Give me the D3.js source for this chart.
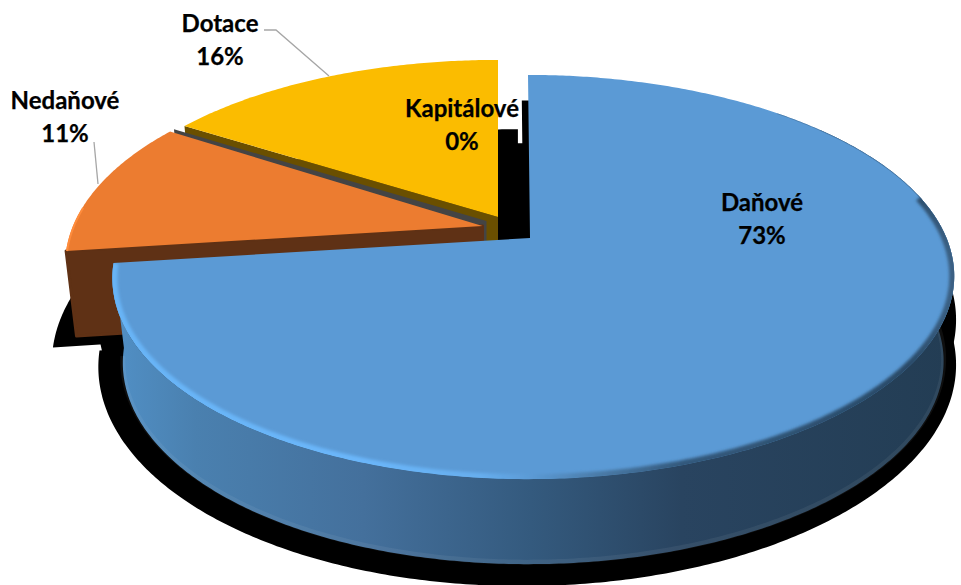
<!DOCTYPE html>
<html><head><meta charset="utf-8">
<script src="https://cdn.jsdelivr.net/npm/d3@7/dist/d3.min.js"></script>
<style>html,body{margin:0;padding:0;background:#fff}svg{display:block}
text{font-family:Lato,"Open Sans",sans-serif;font-weight:700;font-size:24px;fill:#000;text-anchor:middle;stroke:#000;stroke-width:.25}</style>
</head><body><svg id="c" width="961" height="585"></svg>
<script>
// ---- data ----
const categories = ["Daňové", "Nedaňové", "Kapitálové", "Dotace"];
const values = [73, 11, 0, 16];

// ---- layout / styles (separate from the data) ----
const W = 961, H = 585;
const cx = 533.5, cy = 238, R = 413, S = 194.6, K = 0.193, apexShift = -3.5;
const depth = 85, bottomScale = 0.975;
const placement = [
  {dx: 0, dy: 0, sy: 1, lean: 5.5},
  {dx: -47.5, dy: -12, sy: 1, lean: 0},
  {dx: -43.5, dy: -17, sy: 0.97, lean: 0},
  {dx: -32, dy: -21, sy: 0.963, lean: 3.5}
];
const topFill = ["#5b9ad5", "#ec7c30", "#444444", "#fbbc00"];
const wallFill = ["url(#wallBlue)", "#5f3115", "#444444", "#6a4f00"];
const labelPos = [[762, 211], [65, 109], [462, 117], [220, 32]];
const lineGap = 33;
const leaders = [
  null,
  [[94, 142], [98, 184]],
  null,
  [[264, 30], [276, 30], [329, 76]]
];

const svg = d3.select("#c");
const defs = svg.append("defs");
function grad(id, x1, x2, stops) {
  const g = defs.append("linearGradient").attr("id", id)
    .attr("gradientUnits", "userSpaceOnUse")
    .attr("x1", x1).attr("x2", x2).attr("y1", 0).attr("y2", 0);
  stops.forEach(s => g.append("stop").attr("offset", s[0]).attr("stop-color", s[1]));
}
grad("wallBlue", 112, 950, [[0, "#5190c6"], [0.1, "#4a80af"], [0.3, "#44709c"], [0.5, "#345a7e"], [0.68, "#294460"], [1, "#233d54"]]);
grad("rimBlue", 112, 950, [[0, "#68b4f6"], [0.3, "#6ab6fa"], [0.44, "#66aeee"], [0.5, "#5b9ad5"], [0.58, "#4a7ba8"], [0.68, "#33597c"], [0.95, "#294a68"], [1, "#3a5f82"]]);
defs.append("filter").attr("id", "soft").attr("x", "-5%").attr("y", "-5%").attr("width", "110%").attr("height", "110%")
  .append("feGaussianBlur").attr("stdDeviation", 1.8);
defs.append("clipPath").attr("id", "blueClip").append("path").attr("class", "clipShape");

const arcs = d3.pie().sort(null).value(d => d)(values);
const line = d3.line();

function project(theta, r, p) {
  const u = r * Math.sin(theta), v = -r * Math.cos(theta), w = 1 - K * v;
  const ry = S * v / w;
  const c = Math.cos(theta);
  const xAdj = r === 0 ? apexShift : -p.lean * c * c;
  return [cx + R * u / w + xAdj + p.dx, cy + p.sy * ry + p.dy];
}
function rim(a, b, p, step = 0.01) {
  return d3.range(a, b, step).concat([b]).map(t => project(t, 1, p));
}
const apex = p => project(0, 0, p);
const lower = (pt, p) => {
  const a = apex(p);
  return [a[0] + (pt[0] - a[0]) * bottomScale, pt[1] + depth];
};
const topFace = (d, i) => [apex(placement[i]), ...rim(d.startAngle, d.endAngle, placement[i])];
const bottomFace = (d, i) => topFace(d, i).map(q => lower(q, placement[i]));
const extrude = (pts, p) => [...pts, ...pts.slice().reverse().map(q => lower(q, p))];
const shadowTf = (q, dx, dy) => [cx - 6 + dx + (q[0] - cx) * 1.045, 320 + dy + (q[1] - 320) * 1.09];

// ---- shadows ----
const shadowPieces = [
  {slice: 0, dx: 0, dy: 0},
  {slice: 0, dx: 0, dy: -45},
  {slice: 1, dx: 3, dy: 10},
  {slice: 3, dx: 27.5, dy: 0},
  {slice: 3, dx: 42, dy: 14}
];
svg.append("g").selectAll("path").data(shadowPieces).join("path")
  .attr("fill", "#000")
  .attr("d", s => line(bottomFace(arcs[s.slice], s.slice).map(q => shadowTf(q, s.dx, s.dy))) + "Z");

// ---- slices, back to front ----
[3, 2, 1, 0].forEach(i => {
  const d = arcs[i], p = placement[i], g = svg.append("g");
  if (i === 0) {
    const r = rim(0.9, d.endAngle, p);
    g.append("path").attr("fill", wallFill[i]).attr("d", line(extrude(r, p)) + "Z");
    // faint lighter band along the lower edge of the wall
    g.append("path").attr("fill", "none").attr("stroke", "#fff").attr("stroke-opacity", 0.06)
      .attr("stroke-width", 5).attr("d", line(rim(1.6, d.endAngle - 0.05, p).map(q => { const l = lower(q, p); return [l[0], l[1] - 2]; })));
  } else {
    const edge = [project(d.startAngle, 1, p), apex(p)];
    g.append("path").attr("fill", wallFill[i])
      .attr("stroke", wallFill[i]).attr("stroke-width", i === 1 ? 3 : 0).attr("stroke-linejoin", "round")
      .attr("d", line(extrude(edge, p)) + "Z");
  }
  if (d.endAngle > d.startAngle) {
    const shape = line(topFace(d, i)) + "Z";
    g.append("path").attr("fill", topFill[i]).attr("d", shape);
    if (i === 0) {
      svg.select(".clipShape").attr("d", shape);
      const c = g.append("g").attr("clip-path", "url(#blueClip)");
      c.append("path").attr("fill", "none").attr("stroke", "url(#rimBlue)").attr("stroke-width", 10)
       .attr("filter", "url(#soft)")
       .attr("d", line(rim(1.35, d.endAngle, p)));
      c.append("path").attr("fill", "none").attr("stroke", "#2c4f70").attr("stroke-opacity", 0.4).attr("stroke-width", 1.5)
       .attr("d", line(rim(0.75, 1.4, p)));
    }
    if (i === 1) {
      g.append("path").attr("fill", "none").attr("stroke", "#ff8c3c").attr("stroke-width", 2)
       .attr("d", line(rim(d.startAngle, d.startAngle + 0.22, {...p, dx: p.dx + 1})));
    }
  }
});

// ---- leader lines ----
svg.append("g").selectAll("path").data(leaders.filter(Boolean)).join("path")
  .attr("fill", "none").attr("stroke", "#a6a6a6").attr("stroke-width", 1.3)
  .attr("d", l => line(l));

// ---- labels ----
const labels = svg.append("g").selectAll("text").data(categories).join("text")
  .attr("transform", (d, i) => `translate(${labelPos[i][0]},${labelPos[i][1]})`);
labels.append("tspan").attr("x", 0).attr("y", 0).text(d => d);
labels.append("tspan").attr("x", 0).attr("y", lineGap).text((d, i) => values[i] + "%");
</script></body></html>
